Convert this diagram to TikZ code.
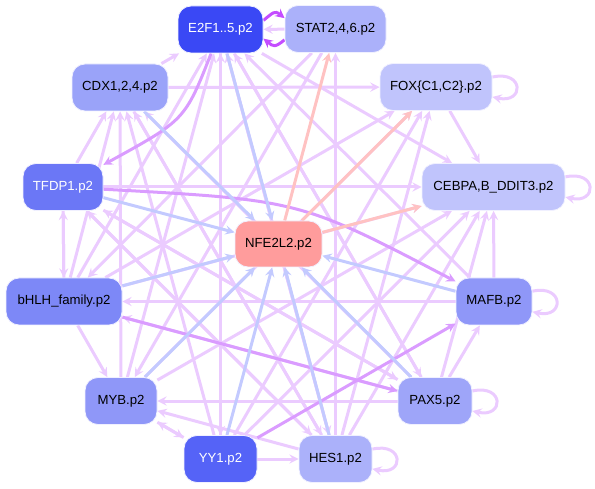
\documentclass[tikz,border=0pt]{standalone}
\usepackage{fontspec}
\setmainfont{Liberation Sans}
\usetikzlibrary{backgrounds}

% 节点颜色
\definecolor{cEtwo}{HTML}{3A48F5}
\definecolor{cYY}{HTML}{5563F7}
\definecolor{cTF}{HTML}{6B77F6}
\definecolor{cBH}{HTML}{7D88F7}
\definecolor{cMid}{HTML}{8F97F8}
\definecolor{cCD}{HTML}{9AA3F9}
\definecolor{cPX}{HTML}{9EA5F9}
\definecolor{cST}{HTML}{ABB1FA}
\definecolor{cLite}{HTML}{C0C4FC}
\definecolor{cNF}{HTML}{FF9C9C}
% 连线颜色
\definecolor{eLt}{HTML}{EBCBFF}
\definecolor{eMd}{HTML}{DA9CFF}
\definecolor{eDk}{HTML}{C44DFF}
\definecolor{eBl}{HTML}{C3CAFF}
\definecolor{ePk}{HTML}{FFC2C2}

\begin{document}
\begin{tikzpicture}[x=1pt, y=-1pt, >=stealth,
		every node/.style={font=\fontsize{13.2}{15}\selectfont},
		tf/.style={draw=blue!6, line width=0.8pt, rounded corners=13pt, minimum height=47pt, inner sep=0pt},
		lt/.style={->, draw=eLt, line width=3pt},
		md/.style={->, draw=eMd, line width=3pt},
		dk/.style={->, draw=eDk, line width=3pt},
		bl/.style={->, draw=eBl, line width=3pt},
		pk/.style={->, draw=ePk, line width=3pt}]
	\useasboundingbox (0,0) rectangle (595,489);
	
	% ==================== 节点 ====================
	\node[tf, fill=cEtwo, text=white, minimum width=85pt] (e2f) at (220.5,29.5) {E2F1..5.p2};
	\node[tf, fill=cST, minimum width=101pt] (stat) at (335.5,29) {STAT2,4,6.p2};
	\node[tf, fill=cCD, minimum width=96pt] (cdx) at (120,87.5) {CDX1,2,4.p2};
	\node[tf, fill=cLite, minimum width=112pt] (fox) at (436,87) {FOX\{C1,C2\}.p2};
	\node[tf, fill=cTF, text=white, minimum width=80pt] (tfdp) at (63,187) {TFDP1.p2};
	\node[tf, fill=cLite, minimum width=143pt] (cebpa) at (493.5,187) {CEBPA,B\_DDIT3.p2};
	\node[tf, fill=cNF, minimum width=87pt, minimum height=46pt] (nfe) at (278.5,244) {NFE2L2.p2};
	\node[tf, fill=cBH, minimum width=116pt] (bhlh) at (64,301.5) {bHLH\_family.p2};
	\node[tf, fill=cMid, minimum width=76pt] (mafb) at (494,301.5) {MAFB.p2};
	\node[tf, fill=cMid, minimum width=72pt] (myb) at (121,401) {MYB.p2};
	\node[tf, fill=cPX, minimum width=74pt] (pax) at (435,401) {PAX5.p2};
	\node[tf, fill=cYY, text=white, minimum width=73pt] (yy) at (220.5,459) {YY1.p2};
	\node[tf, fill=cST, minimum width=73pt] (hes) at (335.5,459) {HES1.p2};
	
	\begin{scope}[on background layer]
		% ==================== 浅紫色连线 ====================
		\foreach \a/\b in {cdx/e2f, tfdp/cdx, tfdp/bhlh, bhlh/tfdp, fox/cebpa, mafb/cebpa,
				pax/mafb, yy/hes, myb/yy, yy/myb, bhlh/myb, tfdp/cebpa, mafb/bhlh, stat/e2f}
			\draw[lt] (\a) -- (\b);
		% 指向 E2F1 与 CDX
		\foreach \a/\b in {bhlh/e2f, myb/e2f, yy/e2f, hes/e2f, pax/e2f, mafb/e2f,
				bhlh/cdx, myb/cdx, yy/cdx, hes/cdx, pax/cdx}
			\draw[lt] (\a) -- (\b);
		% 指向 STAT / FOX / CEBPA
		\foreach \a/\b in {stat/myb, stat/bhlh, hes/stat, cdx/fox, bhlh/fox, myb/fox, yy/fox, hes/fox,
				bhlh/cebpa, myb/cebpa, yy/cebpa, hes/cebpa, pax/cebpa}
			\draw[lt] (\a) -- (\b);
		% E2F1 发出及其余
		\foreach \a/\b in {e2f/yy, e2f/hes, e2f/pax, e2f/cebpa, pax/tfdp, hes/tfdp,
				pax/bhlh, hes/myb, pax/myb, cdx/hes, tfdp/hes, tfdp/pax}
			\draw[lt] (\a) -- (\b);
		
		% 自环
		\draw[lt] (fox.10) .. controls +(32,-7) and +(32,7) .. (fox.-10);
		\draw[lt] (cebpa.8) .. controls +(32,-7) and +(32,7) .. (cebpa.-8);
		\draw[lt] (mafb.15) .. controls +(32,-7) and +(32,7) .. (mafb.-15);
		\draw[lt] (pax.15) .. controls +(32,-7) and +(32,7) .. (pax.-15);
		\draw[lt] (hes.15) .. controls +(32,-7) and +(32,7) .. (hes.-15);
		
		% ==================== 深紫色连线 ====================
		\draw[md] (e2f) .. controls (185,120) .. (tfdp);
		\draw[md] (bhlh) -- (pax);
		\draw[md] (tfdp) .. controls (300,200) .. (mafb);
		\draw[md] (yy) -- (mafb);
		\draw[dk] (e2f.12) .. controls +(10,-8) and +(-10,-8) .. (stat.168);
		\draw[dk] (stat.-168) .. controls +(-10,8) and +(10,8) .. (e2f.-12);
		
		% ==================== 指向 NFE2L2 (蓝色) ====================
		\foreach \a in {e2f, cdx, tfdp, bhlh, mafb, myb, yy, hes, pax}
			\draw[bl] (\a) -- (nfe);
		
		% NFE2L2 发出 (粉色)
		\foreach \b in {stat, fox, cebpa}
			\draw[pk] (nfe) -- (\b);
	\end{scope}
\end{tikzpicture}
\end{document}
